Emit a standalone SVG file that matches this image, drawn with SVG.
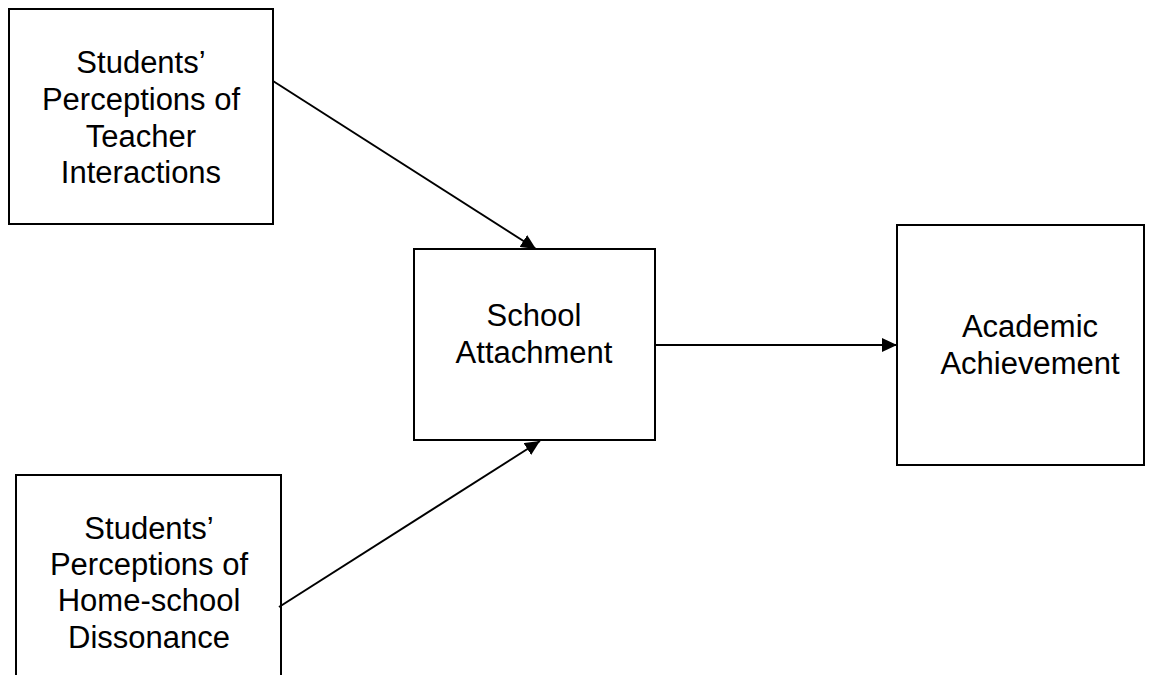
<svg xmlns="http://www.w3.org/2000/svg" width="1158" height="675" viewBox="0 0 1158 675">
<style>
.box{fill:#fff;stroke:#000;stroke-width:2}
.lbl{font-family:"Liberation Sans",Arial,sans-serif;font-size:31px;fill:#000;text-anchor:middle}
.conn{stroke:#000;stroke-width:2;fill:none}
</style>
<defs>
<marker id="ah" markerUnits="userSpaceOnUse" markerWidth="16" markerHeight="14" refX="15" refY="7" orient="auto">
<path d="M0,0 L15,7 L0,14 Z" fill="#000"/>
</marker>
</defs>
<rect width="1158" height="675" fill="#fff"/>
<g id="node-teacher">
<rect class="box" x="9" y="9" width="264" height="215"/>
<text class="lbl" x="141" y="73">Students’</text>
<text class="lbl" x="141" y="110">Perceptions of</text>
<text class="lbl" x="141" y="147">Teacher</text>
<text class="lbl" x="141" y="183">Interactions</text>
</g>
<g id="node-school">
<rect class="box" x="414" y="249" width="241" height="191"/>
<text class="lbl" x="534" y="326">School</text>
<text class="lbl" x="534" y="363">Attachment</text>
</g>
<g id="node-academic">
<rect class="box" x="897" y="225" width="247" height="240"/>
<text class="lbl" x="1030" y="337">Academic</text>
<text class="lbl" x="1030" y="374">Achievement</text>
</g>
<g id="node-home">
<rect class="box" x="16" y="475" width="265" height="215"/>
<text class="lbl" x="149" y="539">Students’</text>
<text class="lbl" x="149" y="575">Perceptions of</text>
<text class="lbl" x="149" y="611">Home-school</text>
<text class="lbl" x="149" y="648">Dissonance</text>
</g>
<g id="connectors">
<line class="conn" x1="273" y1="81" x2="536" y2="249" marker-end="url(#ah)"/>
<line class="conn" x1="279" y1="607" x2="540" y2="441" marker-end="url(#ah)"/>
<line class="conn" x1="655" y1="345" x2="897" y2="345" marker-end="url(#ah)"/>
</g>
</svg>
